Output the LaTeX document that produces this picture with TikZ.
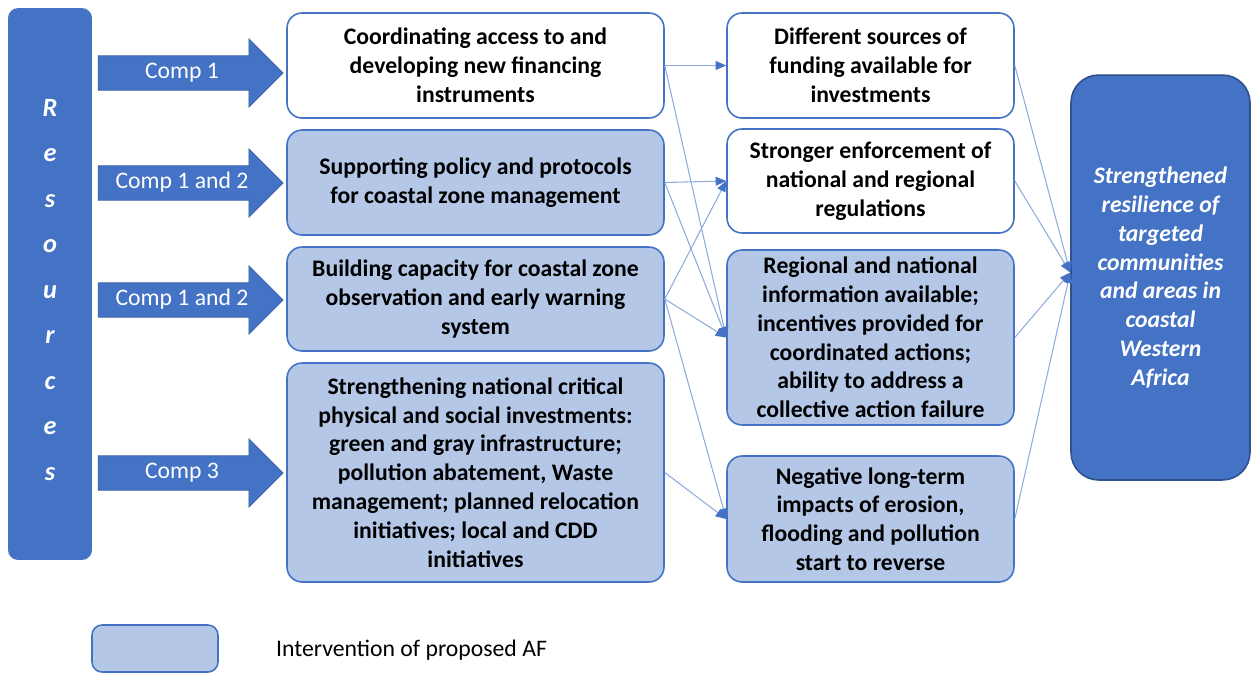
\documentclass[tikz,border=0pt]{standalone}
\usepackage{fontspec}
\setmainfont{Carlito}
\usetikzlibrary{shapes.arrows, arrows.meta}
\definecolor{afblue}{HTML}{4472C4}
\definecolor{aflight}{HTML}{B4C7E7}
\definecolor{afline}{HTML}{8FAADC}
\definecolor{afdark}{HTML}{2F528F}

\begin{document}
\begin{tikzpicture}[x=0.02cm, y=-0.02cm,
  box/.style={draw=afblue, line width=0.9pt, rounded corners=0.3cm, align=center,
    font=\fontsize{13.5}{16.4}\selectfont\bfseries},
  plain/.style={box, fill=white},
  iv/.style={box, fill=aflight},
  comp/.style={single arrow, fill=afblue, draw=afblue!85!black, line width=0.4pt,
    text=white, font=\fontsize{13.5}{16}\selectfont,
    minimum height=3.7cm, minimum width=1.36cm, single arrow head extend=0.34cm,
    text height=9pt, text depth=3pt, inner ysep=3.6pt, inner xsep=0pt},
  link/.style={afline, line width=0.6pt, -{Triangle[length=6pt, width=5pt, color=afblue]}}]
\useasboundingbox (0,0) rectangle (1252,674);

% inputs
\node[fill=afblue, rounded corners=0.2cm, minimum width=1.68cm, minimum height=11.04cm]
  (res) at (50,284) {};
\node[text=white, align=center, font=\fontsize{15}{25.9}\selectfont\bfseries\itshape]
  (reslbl) at (50,290) {R\\e\\s\\o\\u\\r\\c\\e\\s};

\node[comp] (c1) at (182,73) {Comp 1};
\node[comp] (c2) at (182,183) {Comp 1 and 2};
\node[comp] (c3) at (182,300) {Comp 1 and 2};
\node[comp] (c4) at (182,473) {Comp 3};

% activities
\node[plain, minimum width=7.54cm, minimum height=2.1cm] (a1) at (475.5,65.5)
  {Coordinating access to and\\developing new financing\\instruments};
\node[iv, minimum width=7.54cm, minimum height=2.1cm] (a2) at (475.5,182.5)
  {Supporting policy and protocols\\for coastal zone management};
\node[iv, minimum width=7.54cm, minimum height=2.08cm] (a3) at (475.5,299)
  {Building capacity for coastal zone\\observation and early warning\\system};
\node[iv, minimum width=7.54cm, minimum height=4.38cm] (a4) at (475.5,472.5)
  {Strengthening national critical\\physical and social investments:\\green and gray infrastructure;\\pollution abatement, Waste\\management; planned relocation\\initiatives; local and CDD\\initiatives};

% outputs
\node[plain, minimum width=5.74cm, minimum height=2.1cm] (b1) at (870.5,65.5)
  {Different sources of\\funding available for\\investments};
\node[plain, minimum width=5.74cm, minimum height=2.08cm] (b2) at (870.5,181)
  {Stronger enforcement of\\national and regional\\regulations};
\node[iv, minimum width=5.74cm, minimum height=3.5cm] (b3) at (870.5,337.5)
  {Regional and national\\information available;\\incentives provided for\\coordinated actions;\\ability to address a\\collective action failure};
\node[iv, minimum width=5.74cm, minimum height=2.52cm] (b4) at (870.5,519)
  {Negative long-term\\impacts of erosion,\\flooding and pollution\\start to reverse};

% outcome
\node[box, fill=afblue, draw=afdark, text=white, rounded corners=0.55cm,
  font=\fontsize{13.5}{16.4}\selectfont\bfseries\itshape,
  minimum width=3.58cm, minimum height=8.1cm] (goal) at (1160.5,277.5)
  {Strengthened\\resilience of\\targeted\\communities\\and areas in\\coastal\\Western\\Africa};

\draw[link] (a1.east) -- (b1.west);
\draw[link] (a1.east) -- (b3.west);
\draw[link] (a2.east) -- (b2.west);
\draw[link] (a2.east) -- (b3.west);
\draw[link] (a3.east) -- (b2.west);
\draw[link] (a3.east) -- (b3.west);
\draw[link] (a3.east) -- (b4.west);
\draw[link] (a4.east) -- (b4.west);

\coordinate (hit) at ([yshift=0.1cm]goal.west);
\foreach \b in {b1,b2,b3,b4}
  \draw[link] (\b.east) -- (hit);

% legend
\node[iv, rounded corners=0.2cm, minimum width=2.52cm, minimum height=0.94cm] (key) at (155,648.5) {};
\node[anchor=west, font=\fontsize{13.5}{16}\selectfont] (keylbl) at (270,650) {Intervention of proposed AF};
\end{tikzpicture}
\end{document}
